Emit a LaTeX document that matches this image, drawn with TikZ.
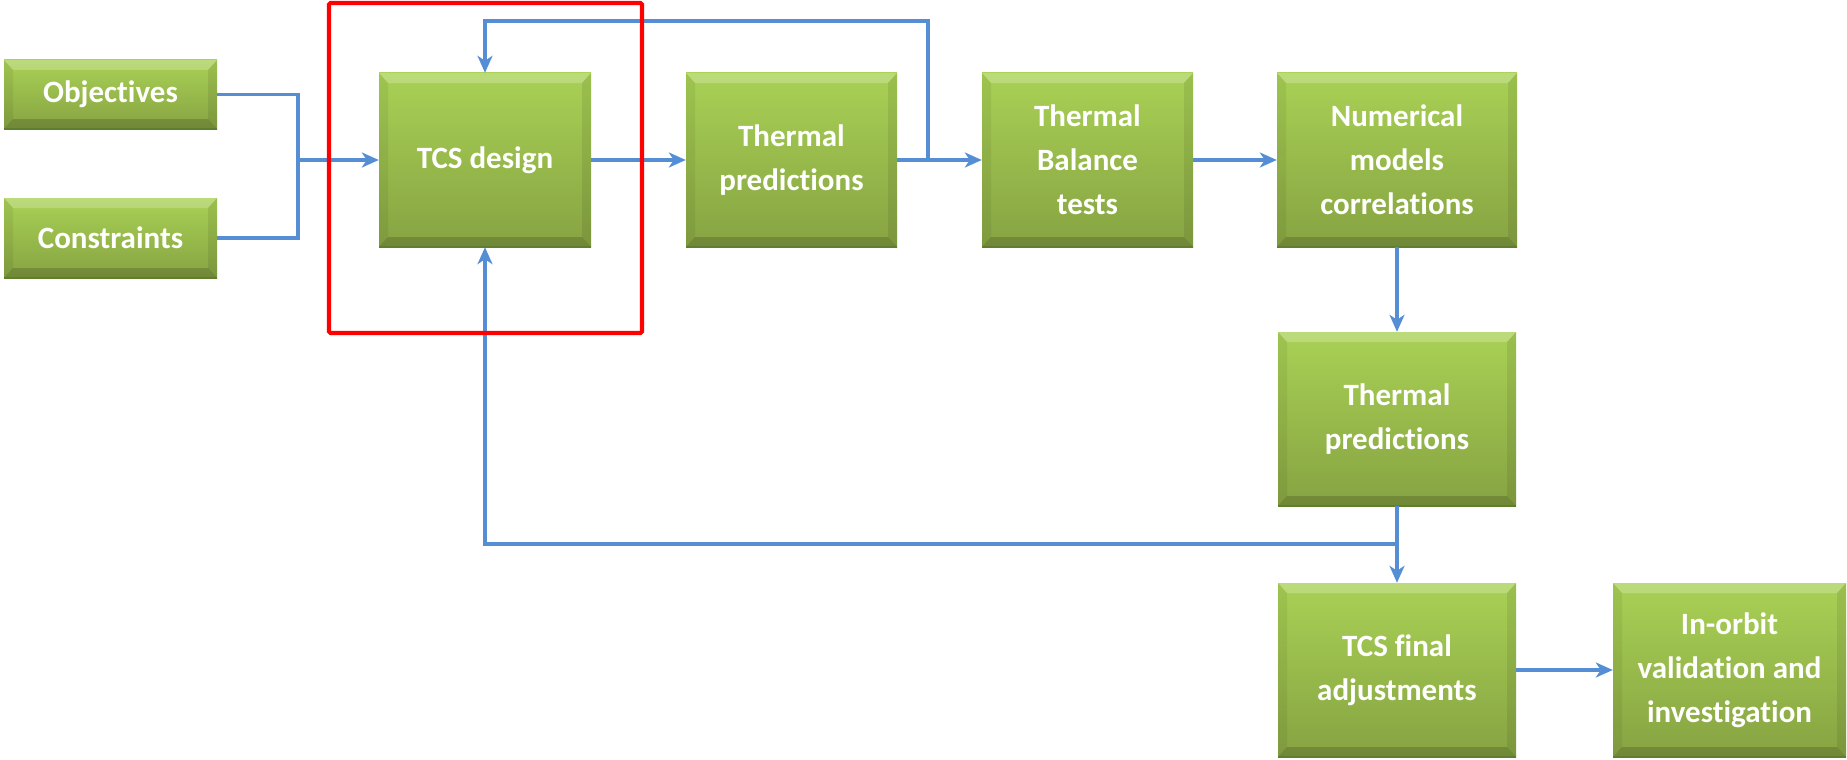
\documentclass[tikz,border=0pt]{standalone}
\usepackage{fontspec}
\setmainfont{Carlito}[Ligatures=NoCommon]
\usetikzlibrary{arrows.meta}
\definecolor{flowblue}{HTML}{558ED5}
\definecolor{gtop}{HTML}{A9D155}
\definecolor{gbot}{HTML}{86A342}
\definecolor{gedge}{HTML}{5F7F2E}
\tikzset{
  gbox/.style={rectangle, inner sep=0pt, top color=gtop, bottom color=gbot,
    text=white, align=center, font=\fontsize{31}{44}\selectfont\bfseries,
    path picture={
      \fill[white,opacity=0.22] (path picture bounding box.north west) -- (path picture bounding box.north east)
        -- ([xshift=-9pt,yshift=-10pt]path picture bounding box.north east) -- ([xshift=9pt,yshift=-10pt]path picture bounding box.north west) -- cycle;
      \fill[black,opacity=0.16] (path picture bounding box.south west) -- (path picture bounding box.south east)
        -- ([xshift=-9pt,yshift=10pt]path picture bounding box.south east) -- ([xshift=9pt,yshift=10pt]path picture bounding box.south west) -- cycle;
      \fill[black,opacity=0.06] (path picture bounding box.north west) -- ([xshift=9pt,yshift=-10pt]path picture bounding box.north west)
        -- ([xshift=9pt,yshift=10pt]path picture bounding box.south west) -- (path picture bounding box.south west) -- cycle;
      \fill[black,opacity=0.08] (path picture bounding box.north east) -- ([xshift=-9pt,yshift=-10pt]path picture bounding box.north east)
        -- ([xshift=-9pt,yshift=10pt]path picture bounding box.south east) -- (path picture bounding box.south east) -- cycle;
      \draw[gedge,line width=2.5pt] (path picture bounding box.south west) -- (path picture bounding box.south east);
    }},
  flow/.style={draw=flowblue, line width=3.2pt},
  flowarr/.style={flow, -{Stealth[length=17pt,width=15pt,inset=5pt]}},
  hilite/.style={draw=red, line width=4.2pt, rounded corners=1.5pt}
}
\begin{document}
\begin{tikzpicture}[x=1pt,y=-1pt]
\useasboundingbox (0,0) rectangle (1847,760);
\node[gbox, minimum width=213pt, minimum height=69pt] (obj) at (110.5,94.5) {Objectives};
\node[gbox, minimum width=213pt, minimum height=80pt] (con) at (110.5,238) {Constraints};
\node[gbox, minimum width=212pt, minimum height=174pt] (tcs) at (485,160) {TCS design};
\node[gbox, minimum width=211pt, minimum height=174pt] (th1) at (791.5,160) {Thermal\\predictions};
\node[gbox, minimum width=211pt, minimum height=174pt] (tb) at (1087.5,160) {Thermal\\Balance\\tests};
\node[gbox, minimum width=240pt, minimum height=174pt] (num) at (1397,160) {Numerical\\models\\correlations};
\node[gbox, minimum width=238pt, minimum height=174pt] (th2) at (1397,419) {Thermal\\predictions};
\node[gbox, minimum width=238pt, minimum height=174pt] (fin) at (1397,670) {TCS final\\adjustments};
\node[gbox, minimum width=233pt, minimum height=174pt] (orb) at (1729.5,670) {In-orbit\\validation and\\investigation};

\coordinate (j1) at (298,160);
\coordinate (j2) at (928,160);
\coordinate (top) at (928,21);
\coordinate (j3) at (1397,544);
\coordinate (bot) at (485,544);

\draw[flow] (obj.east) -| (j1) |- (con.east);
\draw[flowarr] (j1) -- (tcs.west);
\draw[flowarr] (tcs.east) -- (th1.west);
\draw[flowarr] (th1.east) -- (tb.west);
\draw[flowarr] (j2) -- (top) -| (tcs.north);
\draw[flowarr] (tb.east) -- (num.west);
\draw[flowarr] (num.south) -- (th2.north);
\draw[flowarr] (th2.south) -- (fin.north);
\draw[flowarr] (j3) -- (bot) -- (tcs.south);
\draw[flowarr] (fin.east) -- (orb.west);

\draw[hilite] (329,3) rectangle (642,333);
\end{tikzpicture}
\end{document}
